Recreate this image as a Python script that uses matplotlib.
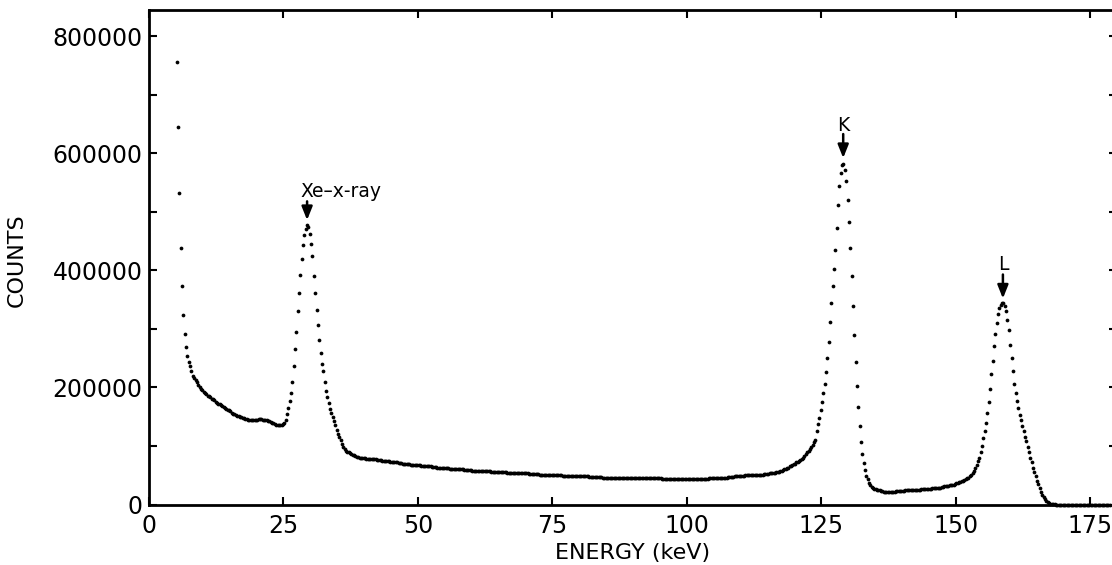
import numpy as np
import matplotlib
matplotlib.use("Agg")
import matplotlib.pyplot as plt
from matplotlib.ticker import MultipleLocator

# gamma spectrum, one value per channel (counts in thousands)
first_kev = 5.15
kev_per_channel = 0.25

counts_low = [756, 645, 532, 438, 373, 324, 292, 269, 254, 244,
              236, 228, 220, 216, 212, 209, 204, 200, 198, 195,
              192, 190, 188, 186, 185, 183, 181, 180, 178, 176,
              174, 172, 171, 170, 168, 167, 165, 164, 162, 161,
              159, 157, 155, 154, 153, 152, 151, 150, 149, 148,
              147, 146, 146, 145, 145, 144, 144, 144, 144, 145,
              145, 146, 146, 146, 145, 145, 144, 144, 143, 142,
              141, 140, 139, 137, 136, 135, 135, 135, 136]

counts_xe = [137, 139, 144, 155, 165, 177, 191, 210, 236, 265,
             295, 330, 362, 392, 420, 443, 460, 471, 477, 474,
             463, 445, 425, 390, 362, 332, 307, 281, 259, 240,
             228, 209, 194, 184, 174, 164, 156, 150, 143, 135,
             128, 121, 116, 110, 104, 98, 94, 92, 90, 89]

counts_mid = [88, 86, 85, 84, 83, 82, 81, 80, 80, 79, 79, 79, 78, 78, 78, 78, 77, 77, 77, 77, 76, 76, 76,
              76, 75, 75, 75, 74, 74, 74, 73, 73, 73, 72, 72, 72, 71, 71, 71, 70, 70, 70, 69, 69, 69, 68, 68,
              68, 68, 67, 67, 67, 67, 66, 66, 66, 66, 65, 65, 65, 65, 64, 64, 64, 64, 63, 63, 63, 63, 62, 62, 62, 62,
              62, 61, 61, 61, 61, 61, 60, 60, 60, 60, 60, 60, 59, 59, 59, 59, 59, 59, 58, 58, 58, 58, 58, 58,
              58, 58, 57, 57, 57, 57, 57, 57, 56, 56, 56, 56, 56, 56, 55, 55, 55, 55, 55, 55, 54, 54, 54, 54, 54,
              54, 54, 54, 53, 53, 53, 53, 53, 53, 53, 53, 52, 52, 52, 52, 52, 52, 52, 52, 51, 51, 51, 51, 51, 51,
              51, 51, 51, 50, 50, 50, 50, 50, 50, 50, 50, 49, 49, 49, 49, 49, 49, 49, 49, 48, 48, 48, 48, 48, 48,
              48, 48, 48, 48, 48, 48, 47, 47, 47, 47, 47, 47, 47, 47, 47, 47, 46, 46, 46, 46, 46, 46, 46, 46, 46,
              46, 46, 46, 46, 46, 46, 46, 46, 46, 46, 45, 45, 45, 45, 45, 45, 45, 45, 45, 45, 45, 45, 45, 45, 45,
              45, 45, 45, 45, 45, 45, 45, 45, 45, 45, 44, 44, 44, 44, 44, 44, 44, 44, 44, 44, 44, 44, 44, 44, 44,
              44, 44, 44, 44, 44, 44, 44, 44, 43, 43, 43, 43, 43, 43, 44, 44, 44, 44, 44, 44, 45, 45, 45, 45, 45,
              45, 45, 45, 45, 46, 46, 46, 46, 46, 47, 47, 47, 47, 47, 48, 48, 48, 48, 48, 49, 49, 49, 50, 50, 50,
              50, 50, 50, 50, 50, 50, 51, 51, 51, 51, 51, 52, 52, 52, 52, 53, 53, 53, 54, 54, 55, 55,
              56, 57, 58, 59, 60, 61, 62, 63, 65, 66, 68, 69, 70, 72, 73, 75, 76, 78, 80, 83, 86, 89]

counts_k = [91, 94, 98, 102, 106, 111, 126, 137, 148, 162,
            176, 190, 206, 227, 250, 278, 312, 345, 374, 402,
            435, 472, 511, 545, 567, 580, 582,
            572, 553, 521, 483, 438, 390, 340, 289, 244, 202,
            166, 134, 106, 87, 71, 59, 48, 43, 37, 33]

counts_valley = [30, 28, 27, 26, 25, 24, 24, 23, 23, 22,
                 22, 22, 22, 22, 22, 22, 22, 22, 23, 23,
                 23, 23, 23, 23, 23, 24, 24, 24, 24, 24,
                 24, 25, 25, 25, 25, 25, 25, 26, 26, 26,
                 26, 27, 27, 27, 27, 28, 28, 28, 28, 29,
                 29, 29, 30, 30, 31, 31, 32, 32, 33, 33,
                 34, 34, 35, 36, 37, 38, 39, 40, 41]

counts_l = [42, 43, 45, 46, 48, 51, 54, 58, 63, 68,
            74, 80, 89, 100, 113, 126, 140, 157, 176, 198,
            223, 246, 271, 291, 311, 326, 335, 341, 344, 345,
            340, 331, 315, 299, 272, 250, 228, 206, 191, 177,
            165, 153, 144, 134, 125, 116, 108, 99, 90, 80,
            72, 63, 56, 48, 41, 35, 29, 22, 16, 12,
            9, 6, 4, 2, 1]

counts_tail = [1, 1, 1, 0, 0, 0, 0, 0, 0, 0,
               0, 0, 0, 0, 0, 0, 0, 0, 0, 0,
               0, 0, 0, 0, 0, 0, 0, 0, 0, 0,
               0, 0, 0, 0, 0, 0, 0, 0, 0, 0,
               0, 0, 0, 0]

x_ticks = [0, 25, 50, 75, 100, 125, 150, 175]
y_ticks = [0, 200000, 400000, 600000, 800000]

# peak markers: label, energy (keV), arrow tip / tail / text height (counts)
peak_labels = ["Xe\u2013x-ray", "K", "L"]
peak_kev = [29.4, 129.1, 158.8]
arrow_tip = [486000, 592000, 352000]
arrow_tail = [518000, 633000, 393000]
label_y = [525000, 639000, 400000]

counts = np.concatenate([counts_low, counts_xe, counts_mid, counts_k,
                         counts_valley, counts_l, counts_tail]) * 1000.0
energy = first_kev + kev_per_channel * np.arange(len(counts))

fig = plt.figure(figsize=(11.12, 5.65), dpi=100)
ax = fig.add_axes([149 / 1112, 60.5 / 565, 967.9 / 1112, 494.5 / 565])

ax.plot(energy, counts, 'o', color='k', ms=2.7, mew=0, clip_on=False)

ax.set_xlim(0, 180)
ax.set_ylim(0, 845000)
ax.set_xticks(x_ticks)
ax.set_yticks(y_ticks)
ax.yaxis.set_minor_locator(MultipleLocator(100000))

for s in ax.spines.values():
    s.set_linewidth(2)
ax.spines['right'].set_visible(False)  # falls just off the page in the original
ax.tick_params(which='both', direction='in', length=6, width=1.5,
               top=True, right=True, labelsize=17)
ax.tick_params(axis='x', pad=7)
ax.tick_params(axis='y', pad=4.5)

ax.set_xlabel("ENERGY (keV)", fontsize=16)
ax.xaxis.set_label_coords(0.5, -0.078)
ax.set_ylabel("COUNTS", fontsize=16)
ax.yaxis.set_label_coords(-0.126, 0.494)

for name, e, tip, tail, ty in zip(peak_labels, peak_kev, arrow_tip, arrow_tail, label_y):
    ax.annotate("", xy=(e, tip), xytext=(e, tail),
                arrowprops=dict(arrowstyle="-|>,head_length=0.5,head_width=0.2",
                                color='k', lw=1.8, mutation_scale=16,
                                shrinkA=0, shrinkB=0))
    if name == "K" or name == "L":
        ax.text(e, ty, name, fontsize=13.5, ha='center', va='baseline')
    else:
        ax.text(e - 1.15, ty, name, fontsize=13.5, ha='left', va='baseline')

fig.savefig("out.png", dpi=100)
